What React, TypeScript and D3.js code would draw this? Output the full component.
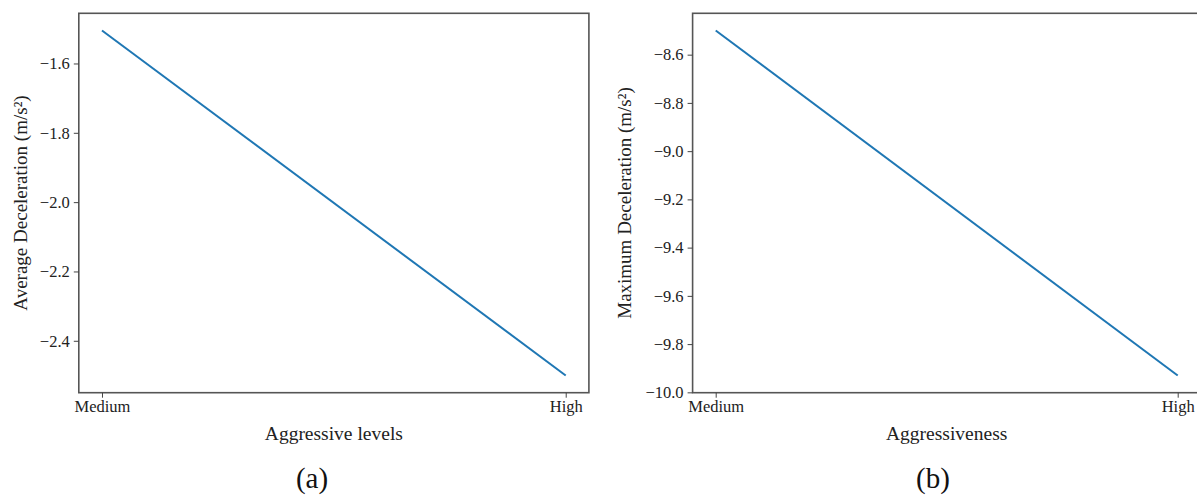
import React, { useRef, useEffect } from "react";
import * as d3 from "d3";

// Panel (a): average deceleration by aggressive level
const levelsA = ["Medium", "High"];
const avgDecel = [-1.505, -2.5];
const ticksA = [-1.6, -1.8, -2.0, -2.2, -2.4];

// Panel (b): maximum deceleration by aggressiveness
const levelsB = ["Medium", "High"];
const maxDecel = [-8.5, -9.93];
const ticksB = [-8.6, -8.8, -9.0, -9.2, -9.4, -9.6, -9.8, -10.0];

const W = 1197;
const H = 495;
const FONT = "'Liberation Serif', 'Times New Roman', serif";

export default function App() {
  const svgRef = useRef<SVGSVGElement>(null);

  useEffect(() => {
    const svg = d3.select(svgRef.current);
    svg.selectAll("*").remove();
    svg.attr("width", W).attr("height", H).attr("viewBox", `0 0 ${W} ${H}`);

    const top = 13.3;
    const bottom = 392.7;

    const panels = [
      {
        left: 78.8, right: 588.9, cats: levelsA, vals: avgDecel, ticks: ticksA,
        xLabel: "Aggressive levels", yLabel: "Average Deceleration (m/s\u00b2)",
        yLabelX: 20, tag: "(a)", tagX: 312,
      },
      {
        left: 692.6, right: 1200.8, cats: levelsB, vals: maxDecel, ticks: ticksB,
        xLabel: "Aggressiveness", yLabel: "Maximum Deceleration (m/s\u00b2)",
        yLabelX: 624, tag: "(b)", tagX: 933,
      },
    ];

    panels.forEach((p) => {
      const n = p.cats.length;
      const x = d3.scaleLinear()
        .domain([-0.05 * (n - 1), (n - 1) * 1.05])
        .range([p.left, p.right]);
      const [lo, hi] = d3.extent(p.vals) as [number, number];
      const pad = (hi - lo) * 0.05;
      const y = d3.scaleLinear().domain([lo - pad, hi + pad]).range([bottom, top]);

      const g = svg.append("g");

      const line = d3.line<number>()
        .x((_, i) => x(i))
        .y((d) => y(d));
      g.append("path")
        .datum(p.vals)
        .attr("fill", "none")
        .attr("stroke", "#1f77b4")
        .attr("stroke-width", 2)
        .attr("d", line);

      // Frame
      g.append("rect")
        .attr("x", p.left).attr("y", top)
        .attr("width", p.right - p.left).attr("height", bottom - top)
        .attr("fill", "none").attr("stroke", "#555").attr("stroke-width", 1.6);

      // Y axis
      const yAxis = g.append("g")
        .attr("transform", `translate(${p.left},0)`)
        .call(d3.axisLeft(y).tickValues(p.ticks).tickSize(5).tickPadding(4)
          .tickFormat((d) => d3.format(".1f")(d as number).replace("-", "\u2212")));
      yAxis.attr("font-family", FONT).attr("font-size", 16.5);
      yAxis.select(".domain").remove();
      yAxis.selectAll("line").attr("stroke", "#444").attr("stroke-width", 1);
      yAxis.selectAll("text").style("font-family", FONT).attr("fill", "#222");

      // X axis
      const xAxis = g.append("g")
        .attr("transform", `translate(0,${bottom})`)
        .call(d3.axisBottom(x).tickValues(d3.range(n)).tickSize(5).tickPadding(3)
          .tickFormat((d) => p.cats[d as number]));
      xAxis.attr("font-family", FONT).attr("font-size", 16.5);
      xAxis.select(".domain").remove();
      xAxis.selectAll("line").attr("stroke", "#444").attr("stroke-width", 1);
      xAxis.selectAll("text").style("font-family", FONT).attr("fill", "#222");

      // Labels
      g.append("text")
        .attr("x", (p.left + p.right) / 2).attr("y", 440)
        .attr("text-anchor", "middle")
        .attr("font-family", FONT).attr("font-size", 19.5).attr("fill", "#222")
        .text(p.xLabel);

      g.append("text")
        .attr("transform", `translate(${p.yLabelX + 7},${(top + bottom) / 2}) rotate(-90)`)
        .attr("text-anchor", "middle")
        .attr("font-family", FONT).attr("font-size", 19).attr("fill", "#222")
        .text(p.yLabel);

      g.append("text")
        .attr("x", p.tagX).attr("y", 488)
        .attr("text-anchor", "middle")
        .attr("font-family", FONT).attr("font-size", 29).attr("fill", "#111")
        .text(p.tag);
    });
  }, []);

  return (
    <svg
      ref={svgRef}
      style={{ position: "absolute", left: 0, top: 0, display: "block", background: "#fff" }}
    />
  );
}
